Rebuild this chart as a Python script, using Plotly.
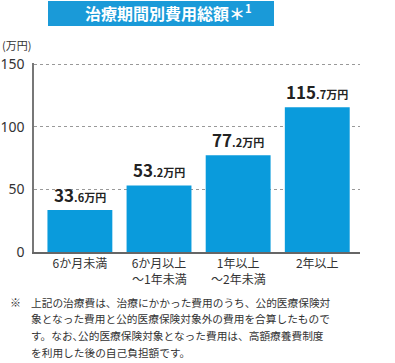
import plotly.graph_objects as go

cat_line1 = ["6か月未満", "6か月以上", "1年以上", "2年以上"]
cat_line2 = ["", "～1年未満", "～2年未満", ""]
values = [33.6, 53.2, 77.2, 115.7]
y_ticks = [0, 50, 100, 150]
title_text = "治療期間別費用総額＊<sup>1</sup>"
unit_text = "(万円)"
note_lines = [
    "上記の治療費は、治療にかかった費用のうち、公的医療保険対",
    "象となった費用と公的医療保険対象外の費用を合算したもので",
    "す。なお､公的医療保険対象となった費用は、高額療養費制度",
    "を利用した後の自己負担額です。",
]

FONT = "Noto Sans CJK JP, Noto Sans, sans-serif"
BAR = "#0a9bdc"
TXT = "#333333"

W, H = 395, 363
L, R, T, B = 34, 35, 63, 111
pw, ph = W - L - R, H - T - B

def px(x):
    return (x - L) / pw

def py(y):
    return (H - B - y) / ph

fig = go.Figure()
fig.add_trace(go.Bar(x=list(range(len(values))), y=values, marker=dict(color=BAR, line=dict(width=0)),
                     hoverinfo="skip"))

for i, v in enumerate(values):
    s = f"{v:.1f}"
    ip, dp = s.split(".")
    fig.add_annotation(x=i, y=v, xref="x", yref="y", yanchor="bottom", yshift=1, showarrow=False,
                       text=f"<b>{ip}</b><b><span style='font-size:11px'>.{dp}万円</span></b>",
                       font=dict(size=17, color="#222222", family=FONT))
    if cat_line2[i]:
        fig.add_annotation(x=i, y=py(278.5), xref="x", yref="paper", yanchor="middle", showarrow=False,
                           text=cat_line2[i], font=dict(size=12, color=TXT, family=FONT))

fig.update_layout(
    width=W, height=H, margin=dict(l=L, r=R, t=T, b=B, autoexpand=False),
    paper_bgcolor="white", plot_bgcolor="white", showlegend=False,
    bargap=0.18,
    font=dict(family=FONT, color=TXT),
    xaxis=dict(range=[-0.58, 3.54], tickvals=list(range(len(values))), ticktext=cat_line1,
               showgrid=False, showline=True, linecolor="#666666", linewidth=2, automargin=False,
               ticks="", ticklabelstandoff=0, tickfont=dict(size=12, color=TXT), zeroline=False,
               fixedrange=True),
    yaxis=dict(range=[0, 151], tickvals=y_ticks, showgrid=True, gridcolor="#999999", griddash="dot",
               gridwidth=1, showline=True, linecolor="#777777", linewidth=1.5, zeroline=False,
               automargin=False,
               ticks="", ticklabelstandoff=5, tickfont=dict(size=14, color=TXT, family="Noto Sans, sans-serif"),
               fixedrange=True),
)

# title box
fig.add_shape(type="rect", xref="paper", yref="paper", x0=px(48), x1=px(274), y0=py(26), y1=py(1),
              fillcolor="#1a9ad8", line=dict(width=0), layer="above")
fig.add_annotation(xref="paper", yref="paper", x=px(168), y=py(13), xanchor="center", yanchor="middle",
                   showarrow=False, text=f"<b>{title_text}</b>",
                   font=dict(size=16, color="white", family=FONT))

fig.add_annotation(xref="paper", yref="paper", x=px(0), y=py(45), xanchor="left", yanchor="middle",
                   showarrow=False, text=unit_text, font=dict(size=11, color=TXT, family=FONT))

fig.add_annotation(xref="paper", yref="paper", x=px(8), y=py(302), xanchor="left", yanchor="middle",
                   showarrow=False, text="※", font=dict(size=11, color=TXT, family=FONT))
for k, line in enumerate(note_lines):
    fig.add_annotation(xref="paper", yref="paper", x=px(29), y=py(302 + 16.7 * k), xanchor="left",
                       yanchor="middle", showarrow=False, text=line,
                       font=dict(size=10.7, color=TXT, family=FONT))

fig.write_html("out.html", config={"displayModeBar": False},
               post_script="document.body.style.margin='0';document.body.style.overflow='hidden';")
